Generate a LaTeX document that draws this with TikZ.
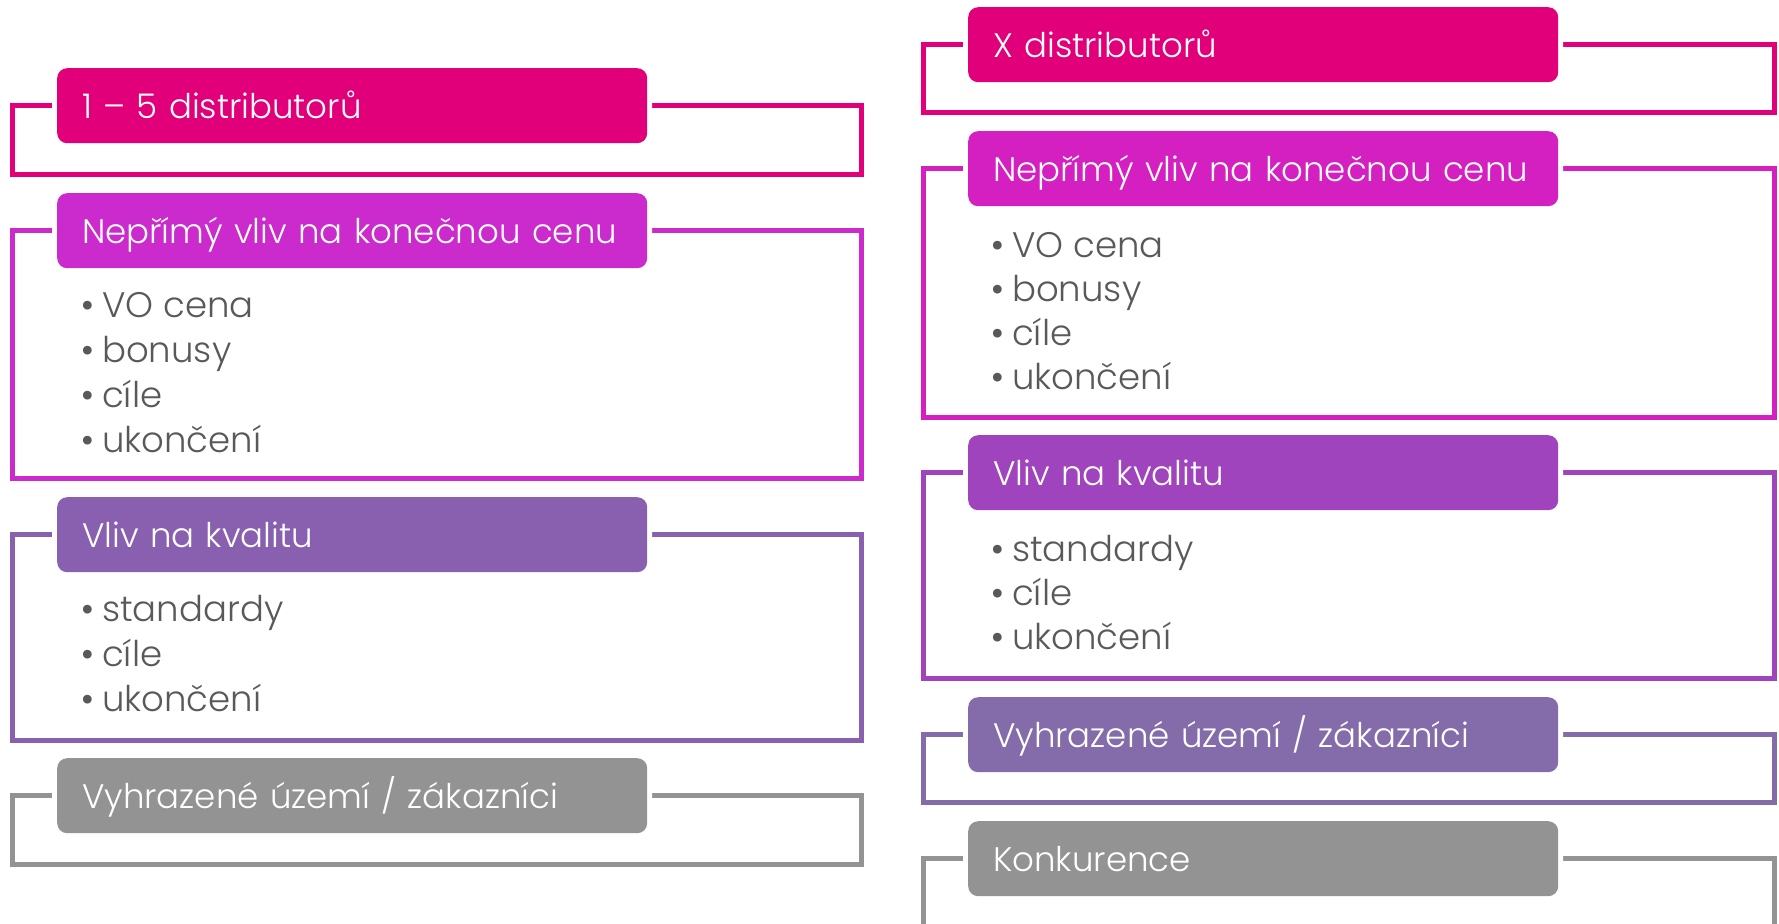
\documentclass[tikz,border=0pt]{standalone}
\usepackage{fontspec}
\setmainfont{Poppins}[UprightFont=* Light]
\newfontfamily\bfam{Poppins}
\definecolor{cA}{RGB}{226,0,122}
\definecolor{cB}{RGB}{203,42,204}
\definecolor{cC}{RGB}{137,96,176}
\definecolor{cG}{RGB}{147,147,147}
\definecolor{cD}{RGB}{213,32,193}
\definecolor{cE}{RGB}{160,68,190}
\definecolor{cF}{RGB}{131,108,169}
\definecolor{txt}{RGB}{89,89,89}
\tikzset{
  hdr/.style={rectangle, rounded corners=10pt, minimum width=590pt, minimum height=75pt,
    anchor=north west, inner xsep=25pt, inner ysep=0pt, text width=540pt, align=left,
    text=white, font=\fontsize{34}{40}\selectfont, text height=25pt, text depth=0pt,
    preaction={draw=white, line width=10pt}},
  fr/.style={line width=5pt},
  itm/.style={anchor=base west, inner sep=0pt, text=txt, font=\fontsize{35.5}{40}\selectfont}
}
\newcommand{\bl}[1]{\llap{{\bfam•}\hspace{7pt}}#1}
\begin{document}
\begin{tikzpicture}[x=1pt,y=-1pt]
\useasboundingbox (0,0) rectangle (1779,923);
% ---------- left column frames ----------
\draw[fr,cA] (12.5,105.5) rectangle (861.5,174.5);
\draw[fr,cB] (12.5,230.5) rectangle (861.5,478);
\draw[fr,cC] (12.5,534.5) rectangle (861.5,740);
\draw[fr,cG] (12.5,795.5) rectangle (861.5,864);
% ---------- right column frames ----------
\draw[fr,cA] (923.5,44.5) rectangle (1774.5,113);
\draw[fr,cD] (923.5,168.5) rectangle (1774.5,417);
\draw[fr,cE] (923.5,472.5) rectangle (1774.5,678);
\draw[fr,cF] (923.5,734.5) rectangle (1774.5,802);
\draw[fr,cG] (923.5,940) -- (923.5,858.5) -- (1774.5,858.5) -- (1774.5,940);
% ---------- left headers ----------
\node[hdr,fill=cA] (l1) at (57,68) {1 – 5 distributorů};
\node[hdr,fill=cB] (l2) at (57,193) {Nepřímý vliv na konečnou cenu};
\node[hdr,fill=cC] (l3) at (57,497) {Vliv na kvalitu};
\node[hdr,fill=cG] (l4) at (57,758) {Vyhrazené území / zákazníci};
% ---------- right headers ----------
\node[hdr,fill=cA] (r1) at (968,7) {X distributorů};
\node[hdr,fill=cD] (r2) at (968,131) {Nepřímý vliv na konečnou cenu};
\node[hdr,fill=cE] (r3) at (968,435) {Vliv na kvalitu};
\node[hdr,fill=cF] (r4) at (968,697) {Vyhrazené území / zákazníci};
\node[hdr,fill=cG] (r5) at (968,821) {Konkurence};
% ---------- left bullets ----------
\node[itm] (l2a) at (102,317) {\bl{VO cena}};
\node[itm] (l2b) at (102,362) {\bl{bonusy}};
\node[itm] (l2c) at (102,407) {\bl{cíle}};
\node[itm] (l2d) at (102,452) {\bl{ukončení}};
\node[itm] (l3a) at (102,621) {\bl{standardy}};
\node[itm] (l3b) at (102,666) {\bl{cíle}};
\node[itm] (l3c) at (102,711) {\bl{ukončení}};
% ---------- right bullets ----------
\node[itm] (r2a) at (1012,257) {\bl{VO cena}};
\node[itm] (r2b) at (1012,301) {\bl{bonusy}};
\node[itm] (r2c) at (1012,345) {\bl{cíle}};
\node[itm] (r2d) at (1012,389) {\bl{ukončení}};
\node[itm] (r3a) at (1012,561) {\bl{standardy}};
\node[itm] (r3b) at (1012,605) {\bl{cíle}};
\node[itm] (r3c) at (1012,649) {\bl{ukončení}};
\end{tikzpicture}
\end{document}
